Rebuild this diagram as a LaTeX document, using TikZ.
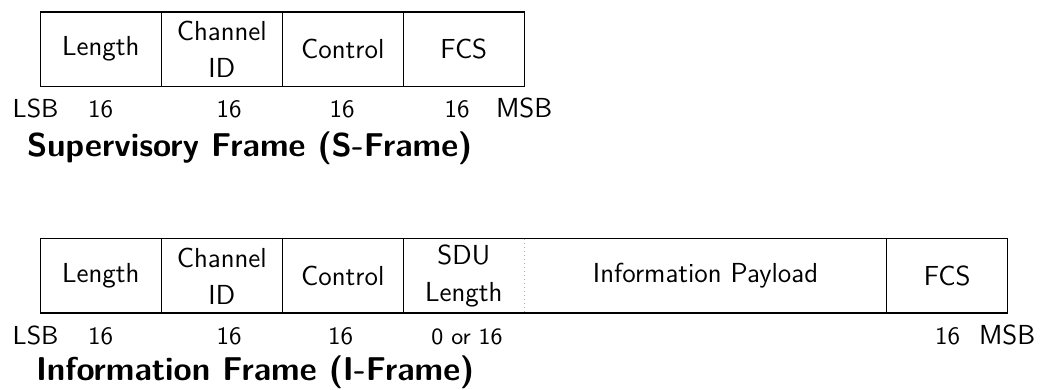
\documentclass[tikz,border=0pt]{standalone}
\begin{document}
\begin{tikzpicture}[x=0.4pt,y=-0.4pt,
  every node/.style={font=\sffamily, inner sep=0pt, outer sep=0pt},
  field/.style={minimum height=29.72pt, align=center, font=\sffamily\fontsize{11}{14.8}\selectfont},
  frameline/.style={line width=0.5pt},
  sep/.style={gray!60, line width=0.5pt, dash pattern=on 0.4pt off 1.2pt},
  bitlbl/.style={font=\sffamily\fontsize{10}{12}\selectfont, anchor=base},
  endlbl/.style={font=\sffamily\fontsize{10.4}{12}\selectfont},
  msblbl/.style={font=\sffamily\fontsize{11}{12}\selectfont},
  ttl/.style={font=\sffamily\bfseries\fontsize{13.2}{15}\selectfont, anchor=base west}]
\useasboundingbox (0,0) rectangle (1043,389);
% ---- Supervisory frame
\node[field, minimum width=48.4pt] (sLen) at (100.8,49.15) {Length};
\node[field, minimum width=48.4pt] (sCid) at (221.8,49.15) {Channel\\ID};
\node[field, minimum width=48.4pt] (sCtl) at (342.8,49.15) {Control};
\node[field, minimum width=48.4pt] (sFcs) at (463.8,49.15) {FCS};
\draw[frameline] (sLen.north west) rectangle (sFcs.south east);
\draw[frameline] (sLen.north east) -- (sLen.south east);
\draw[frameline] (sCid.north east) -- (sCid.south east);
\draw[frameline] (sCtl.north east) -- (sCtl.south east);
\node[endlbl, anchor=base west] (sLsb) at (12.7,117) {LSB};
\node[bitlbl] (sB1) at (100.5,117) {16};
\node[bitlbl] (sB2) at (229,117) {16};
\node[bitlbl] (sB3) at (342,117) {16};
\node[bitlbl] (sB4) at (457,117) {16};
\node[msblbl, anchor=base west] (sMsb) at (496,117) {MSB};
\node[ttl] (sTitle) at (27,156) {Supervisory Frame (S-Frame)};
% ---- Information frame
\node[field, minimum width=48.4pt] (iLen) at (100.8,275.85) {Length};
\node[field, minimum width=48.4pt] (iCid) at (221.8,275.85) {Channel\\ID};
\node[field, minimum width=48.4pt] (iCtl) at (342.8,275.85) {Control};
\node[field, minimum width=48.4pt] (iSdu) at (463.8,275.85) {SDU\\Length};
\node[field, minimum width=144.96pt] (iPay) at (705.5,275.85) {Information Payload};
\node[field, minimum width=48.4pt] (iFcs) at (947.2,275.85) {FCS};
\draw[frameline] (iLen.north west) rectangle (iFcs.south east);
\draw[frameline] (iLen.north east) -- (iLen.south east);
\draw[frameline] (iCid.north east) -- (iCid.south east);
\draw[frameline] (iCtl.north east) -- (iCtl.south east);
\draw[sep] (iSdu.north east) -- (iSdu.south east);
\draw[frameline] (iPay.north east) -- (iPay.south east);
\node[endlbl, anchor=base west] (iLsb) at (12.7,344) {LSB};
\node[bitlbl] (iB1) at (100.5,344) {16};
\node[bitlbl] (iB2) at (229,344) {16};
\node[bitlbl] (iB3) at (340.5,344) {16};
\node[bitlbl, font=\sffamily\fontsize{9.3}{11}\selectfont] (iB4) at (467,344) {0 or 16};
\node[bitlbl] (iB5) at (947.5,344) {16};
\node[msblbl, anchor=base west] (iMsb) at (979,344) {MSB};
\node[ttl] (iTitle) at (36,380) {Information Frame (I-Frame)};
\end{tikzpicture}
\end{document}
